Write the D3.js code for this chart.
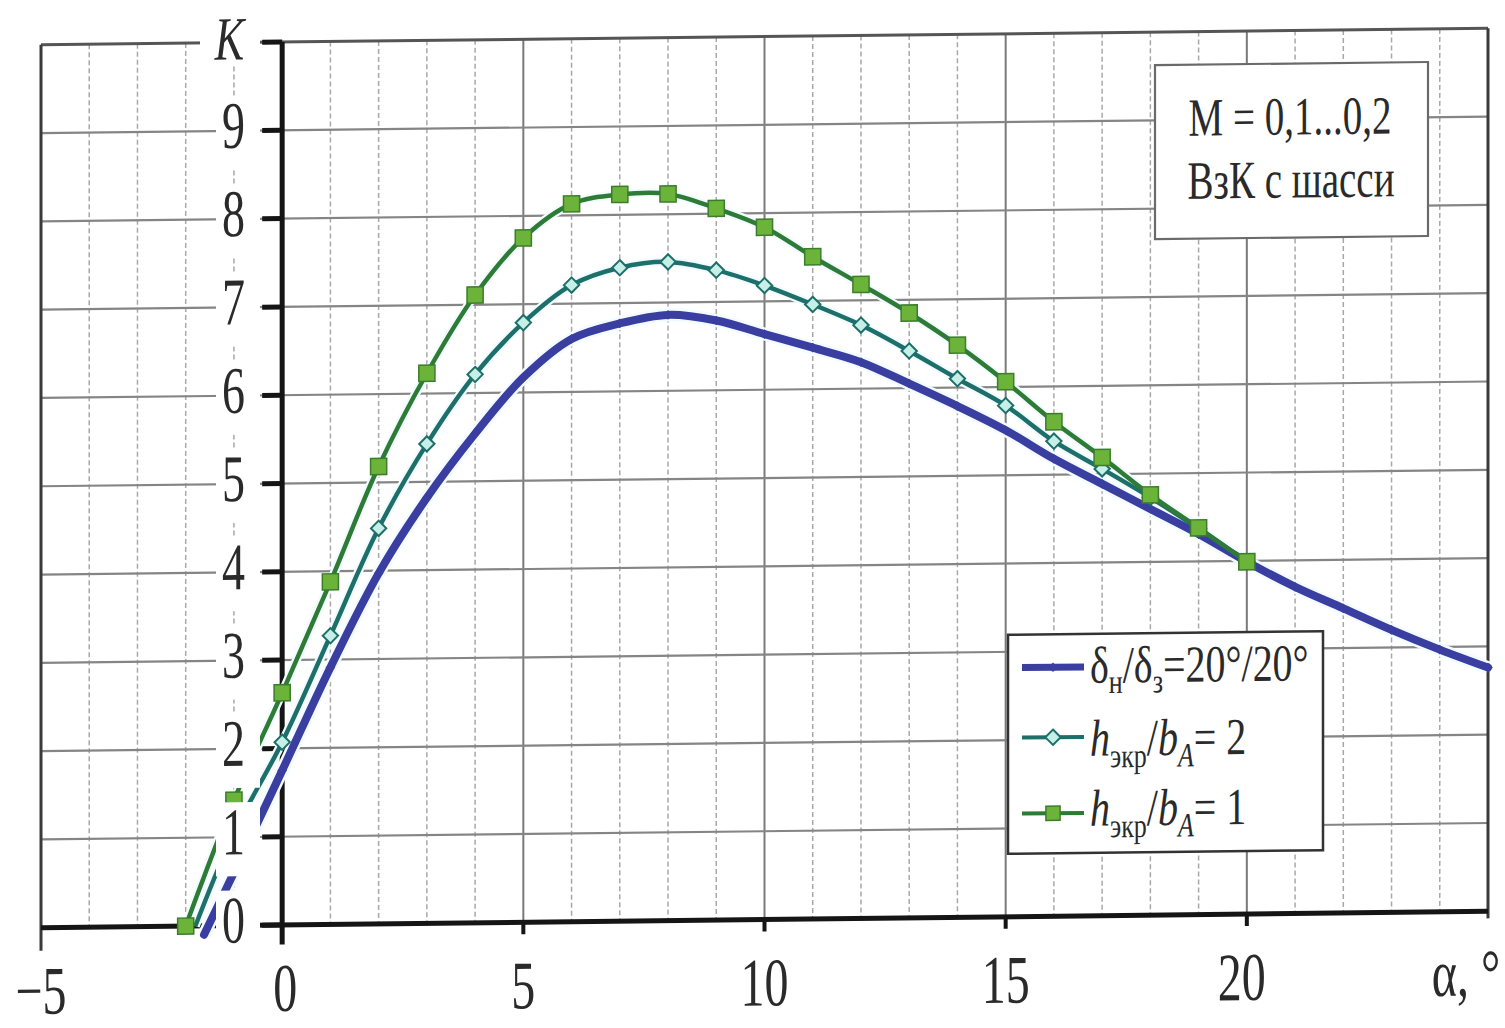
<!DOCTYPE html>
<html>
<head>
<meta charset="utf-8">
<script src="https://cdn.jsdelivr.net/npm/d3@7"></script>
<style>
  html, body { margin: 0; padding: 0; background: #fff; }
  svg { display: block; }
  text { font-family: "Liberation Serif", "Times New Roman", serif; fill: #2a2a2a; }
</style>
</head>
<body>
<script>
// ---------- DATA ----------
const xTicks = [-5, 0, 5, 10, 15, 20];
const xTickLabels = ["\u22125", "0", "5", "10", "15", "20"];
const yTicks = [0, 1, 2, 3, 4, 5, 6, 7, 8, 9];
const yTickLabels = ["0", "1", "2", "3", "4", "5", "6", "7", "8", "9"];

// δн/δз = 20°/20°
const alphaBlue = [-1.62, -1, 0, 1, 2, 3, 4, 5, 6, 7, 8, 9, 10, 11, 12, 13, 14, 15, 16, 17, 18, 19, 20, 21, 22, 23, 24, 25];
const kBlue     = [-0.1, 0.6, 1.75, 2.91, 3.97, 4.82, 5.54, 6.17, 6.60, 6.77, 6.86, 6.79, 6.63, 6.47, 6.30, 6.05, 5.79, 5.51, 5.18, 4.89, 4.60, 4.31, 3.99, 3.70, 3.45, 3.20, 2.97, 2.76];

// hэкр/bA = 2
const alphaTeal = [-1.8, -1, 0, 1, 2, 3, 4, 5, 6, 7, 8, 9, 10, 11, 12, 13, 14, 15, 16, 17, 18, 19, 20];
const kTeal     = [0, 1.05, 2.07, 3.27, 4.48, 5.43, 6.21, 6.79, 7.21, 7.40, 7.46, 7.36, 7.18, 6.96, 6.72, 6.42, 6.10, 5.79, 5.38, 5.06, 4.73, 4.37, 3.99];

// hэкр/bA = 1
const alphaGreen = [-2, -1, 0, 1, 2, 3, 4, 5, 6, 7, 8, 9, 10, 11, 12, 13, 14, 15, 16, 17, 18, 19, 20];
const kGreen     = [0, 1.42, 2.63, 3.88, 5.18, 6.23, 7.11, 7.75, 8.13, 8.23, 8.23, 8.06, 7.84, 7.50, 7.18, 6.85, 6.48, 6.06, 5.60, 5.19, 4.76, 4.38, 3.99];

const infoLines = ["M = 0,1...0,2", "ВзК с шасси"];

// ---------- SETUP ----------
const W = 1505, H = 1028;
const svg = d3.select("body").append("svg").attr("width", W).attr("height", H);
svg.append("rect").attr("width", W).attr("height", H).attr("fill", "#fff");

const x = d3.scaleLinear().domain([-5, 25]).range([41, 1488]);
const y = d3.scaleLinear().domain([0, 10]).range([925, 42]);
const x0 = x(0);

// the scanned chart is slightly sheared: right side higher
const g = svg.append("g").attr("transform", `translate(${x0},0) skewY(-0.65) translate(${-x0},0)`);

function stext(parent, px, py, str, size, sy, anchor) {
  return parent.append("text")
    .attr("transform", `translate(${px},${py}) scale(1,${sy})`)
    .attr("font-size", size)
    .attr("text-anchor", anchor || "start")
    .text(str);
}

// ---------- GRID ----------
const gridX = d3.range(-4, 25).filter(v => v !== 0);
g.append("g").selectAll("line").data(gridX).join("line")
  .attr("x1", d => x(d)).attr("x2", d => x(d))
  .attr("y1", y(10)).attr("y2", y(0))
  .attr("stroke", d => d % 5 === 0 ? "#7a7a7a" : "#a8a8a8")
  .attr("stroke-width", d => d % 5 === 0 ? 2 : 1.5)
  .attr("stroke-dasharray", d => d % 5 === 0 ? null : "5,3");

g.append("g").selectAll("line").data(d3.range(1, 10)).join("line")
  .attr("x1", x(-5)).attr("x2", x(25))
  .attr("y1", d => y(d)).attr("y2", d => y(d))
  .attr("stroke", "#858585").attr("stroke-width", 2.2);

// frame
g.append("line").attr("x1", x(-5)).attr("x2", x(25)).attr("y1", y(10)).attr("y2", y(10))
  .attr("stroke", "#555").attr("stroke-width", 3);
g.append("line").attr("x1", x(-5)).attr("x2", x(-5)).attr("y1", y(10)).attr("y2", y(-0.26))
  .attr("stroke", "#3a3a3a").attr("stroke-width", 3);
g.append("line").attr("x1", x(25)).attr("x2", x(25)).attr("y1", y(10)).attr("y2", y(-0.08))
  .attr("stroke", "#3a3a3a").attr("stroke-width", 3);

// ---------- AXES ----------
g.append("line").attr("x1", x(-5)).attr("x2", x(25)).attr("y1", y(0)).attr("y2", y(0))
  .attr("stroke", "#151515").attr("stroke-width", 5);
g.append("g").selectAll("line").data([5, 10, 15, 20]).join("line")
  .attr("x1", d => x(d)).attr("x2", d => x(d))
  .attr("y1", y(0)).attr("y2", y(0) + 12)
  .attr("stroke", "#151515").attr("stroke-width", 4);

g.append("line").attr("x1", x0).attr("x2", x0).attr("y1", y(10)).attr("y2", y(-0.22))
  .attr("stroke", "#151515").attr("stroke-width", 5);
g.append("g").selectAll("line").data(d3.range(0, 11)).join("line")
  .attr("x1", x0 - 20).attr("x2", x0)
  .attr("y1", d => y(d)).attr("y2", d => y(d))
  .attr("stroke", "#151515").attr("stroke-width", 5);

// ---------- SERIES ----------
const line = d3.line().x(d => x(d[0])).y(d => y(d[1])).curve(d3.curveCatmullRom.alpha(0.5));
const blue = alphaBlue.map((a, i) => [a, kBlue[i]]);
const teal = alphaTeal.map((a, i) => [a, kTeal[i]]);
const green = alphaGreen.map((a, i) => [a, kGreen[i]]);

const cBlue = "#3a3ea0", cTeal = "#1d6f69", cGreen = "#2e7b36";

// halos
[[blue, 13], [teal, 9], [green, 9]].forEach(([d, w]) => {
  g.append("path").datum(d).attr("d", line).attr("fill", "none")
    .attr("stroke", "#f2fbff").attr("stroke-width", w).attr("stroke-linejoin", "round");
});

g.append("path").datum(blue).attr("d", line).attr("fill", "none")
  .attr("stroke", cBlue).attr("stroke-width", 8).attr("stroke-linejoin", "round").attr("stroke-linecap", "round");
g.append("g").selectAll("path").data(blue.filter(d => Number.isInteger(d[0]))).join("path")
  .attr("transform", d => `translate(${x(d[0])},${y(d[1])})`)
  .attr("d", d3.symbol(d3.symbolDiamond2, 60))
  .attr("fill", cBlue);

g.append("path").datum(teal).attr("d", line).attr("fill", "none")
  .attr("stroke", cTeal).attr("stroke-width", 4.5).attr("stroke-linejoin", "round");
g.append("g").selectAll("path").data(teal.filter(d => Number.isInteger(d[0]))).join("path")
  .attr("transform", d => `translate(${x(d[0])},${y(d[1])})`)
  .attr("d", d3.symbol(d3.symbolDiamond2, 150))
  .attr("fill", "#c6efe8").attr("stroke", cTeal).attr("stroke-width", 2);

g.append("path").datum(green).attr("d", line).attr("fill", "none")
  .attr("stroke", cGreen).attr("stroke-width", 4.5).attr("stroke-linejoin", "round");
g.append("g").selectAll("path").data(green.filter(d => Number.isInteger(d[0]))).join("path")
  .attr("transform", d => `translate(${x(d[0])},${y(d[1])})`)
  .attr("d", d3.symbol(d3.symbolSquare, 260))
  .attr("fill", "#6cb33a").attr("stroke", "#3b7d2c").attr("stroke-width", 1.5);

// ---------- AXIS LABELS ----------
const yl = g.append("g");
yTicks.forEach((v, i) => {
  yl.append("rect").attr("x", 216).attr("y", y(v) + 17 - 52).attr("width", 44).attr("height", 74)
    .attr("fill", "#fff");
});
yl.append("rect").attr("x", 200).attr("y", 0).attr("width", 60).attr("height", y(10) + 22).attr("fill", "#fff");
yTicks.forEach((v, i) => {
  stext(yl, 245, y(v) + 17, yTickLabels[i], 46, 1.45, "end");
});
stext(yl, 244, y(10) + 17, "K", 44, 1.4, "end").attr("font-style", "italic");

xTicks.forEach((v, i) => {
  stext(g, x(v) + (v === 20 ? -5 : v === 0 ? 3 : 0), 1011, xTickLabels[i], 48, 1.42, "middle");
});
stext(g, 1466, 1009, "α, °", 48, 1.38, "middle");

// ---------- INFO BOX ----------
g.append("rect").attr("x", 1155).attr("y", 75).attr("width", 273).attr("height", 174)
  .attr("fill", "#fff").attr("stroke", "#6a6a6a").attr("stroke-width", 2.2);
stext(g, 1290, 146, infoLines[0], 39, 1.38, "middle");
stext(g, 1291, 209, infoLines[1], 39, 1.38, "middle");

// ---------- LEGEND ----------
const lg = g.append("g");
lg.append("rect").attr("x", 1008).attr("y", 643).attr("width", 315).attr("height", 219)
  .attr("fill", "#fff").attr("stroke", "#333").attr("stroke-width", 2.5);

const rows = [676, 746, 822];
const bases = [692, 765, 835];
// blue sample
lg.append("line").attr("x1", 1022).attr("x2", 1084).attr("y1", rows[0]).attr("y2", rows[0])
  .attr("stroke", cBlue).attr("stroke-width", 7);
lg.append("path").attr("transform", `translate(1053,${rows[0]})`).attr("d", d3.symbol(d3.symbolDiamond2, 60)).attr("fill", cBlue);
// teal sample
lg.append("line").attr("x1", 1022).attr("x2", 1084).attr("y1", rows[1]).attr("y2", rows[1])
  .attr("stroke", cTeal).attr("stroke-width", 4);
lg.append("path").attr("transform", `translate(1053,${rows[1]})`).attr("d", d3.symbol(d3.symbolDiamond2, 150))
  .attr("fill", "#c6efe8").attr("stroke", cTeal).attr("stroke-width", 2);
// green sample
lg.append("line").attr("x1", 1022).attr("x2", 1084).attr("y1", rows[2]).attr("y2", rows[2])
  .attr("stroke", cGreen).attr("stroke-width", 4);
lg.append("path").attr("transform", `translate(1053,${rows[2]})`).attr("d", d3.symbol(d3.symbolSquare, 200))
  .attr("fill", "#6cb33a").attr("stroke", "#3b7d2c").attr("stroke-width", 1.5);

// legend texts
const t1 = lg.append("text").attr("transform", `translate(1090,${bases[0]}) scale(1,1.3)`).attr("font-size", 40);
t1.append("tspan").text("δ");
t1.append("tspan").attr("dy", 8).attr("font-size", 26).text("н");
t1.append("tspan").attr("dy", -8).text("/δ");
t1.append("tspan").attr("dy", 8).attr("font-size", 26).text("з");
t1.append("tspan").attr("dy", -8).text("=20°/20°");

function hText(base, val) {
  const t = lg.append("text").attr("transform", `translate(1090,${base}) scale(1,1.3)`).attr("font-size", 40);
  t.append("tspan").attr("font-style", "italic").text("h");
  t.append("tspan").attr("dy", 9).attr("font-size", 26).text("экр");
  t.append("tspan").attr("dy", -9).text("/");
  t.append("tspan").attr("font-style", "italic").text("b");
  t.append("tspan").attr("dy", 9).attr("font-size", 26).attr("font-style", "italic").text("A");
  t.append("tspan").attr("dy", -9).text("= " + val);
}
hText(bases[1], "2");
hText(bases[2], "1");
</script>
</body>
</html>
